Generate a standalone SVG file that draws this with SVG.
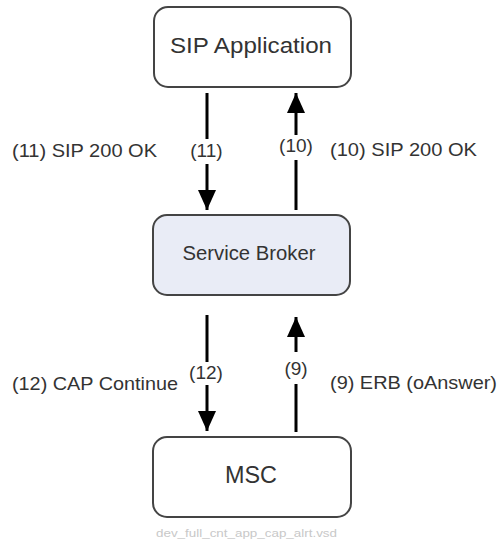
<svg xmlns="http://www.w3.org/2000/svg" width="500" height="542" viewBox="0 0 500 542">
  <defs>
    <marker id="arrow" markerUnits="userSpaceOnUse" markerWidth="20" markerHeight="18" refX="20" refY="9" orient="auto">
      <path d="M0,0 L20,9 L0,18 Z" fill="#000"/>
    </marker>
  </defs>
  <style>
    .node { fill: #fff; stroke: #444; stroke-width: 2; }
    .broker { fill: #e9ecf6; }
    .ntext { font-family: "Liberation Sans", Arial, sans-serif; fill: #333; text-anchor: middle; }
    .lbl { font-family: "Liberation Sans", Arial, sans-serif; font-size: 19px; fill: #333; }
    .conn { fill: none; stroke: #000; stroke-width: 3; }
    .cap { font-family: "Liberation Sans", Arial, sans-serif; font-size: 10px; fill: #c8c8c8; }
  </style>
  <rect width="500" height="542" fill="#fff"/>

  <g id="sip-application">
    <rect class="node" x="154" y="7" width="197" height="80" rx="14"/>
    <text class="ntext" x="251" y="53" font-size="22" textLength="162" lengthAdjust="spacingAndGlyphs">SIP Application</text>
  </g>
  <g id="service-broker">
    <rect class="node broker" x="153" y="215" width="197" height="80" rx="14"/>
    <text class="ntext" x="249" y="260" font-size="20" textLength="133" lengthAdjust="spacingAndGlyphs">Service Broker</text>
  </g>
  <g id="msc">
    <rect class="node" x="153" y="437" width="198" height="80" rx="14"/>
    <text class="ntext" x="251" y="483" font-size="23" textLength="52" lengthAdjust="spacingAndGlyphs">MSC</text>
  </g>

  <g id="connectors">
    <path class="conn" d="M207,93 L207,139 M207,164 L207,210" marker-end="url(#arrow)"/>
    <path class="conn" d="M296,210 L296,160 M296,135 L296,93" marker-end="url(#arrow)"/>
    <path class="conn" d="M207,315 L207,362 M207,385 L207,431" marker-end="url(#arrow)"/>
    <path class="conn" d="M296,432 L296,384 M296,352 L296,317" marker-end="url(#arrow)"/>
  </g>

  <g id="labels">
    <text class="lbl" x="12" y="157" textLength="145" lengthAdjust="spacingAndGlyphs">(11) SIP 200 OK</text>
    <text class="lbl" x="206.5" y="157" text-anchor="middle">(11)</text>
    <text class="lbl" x="296" y="152" text-anchor="middle">(10)</text>
    <text class="lbl" x="330" y="156" textLength="147" lengthAdjust="spacingAndGlyphs">(10) SIP 200 OK</text>
    <text class="lbl" x="12" y="390" textLength="166" lengthAdjust="spacingAndGlyphs">(12) CAP Continue</text>
    <text class="lbl" x="206" y="379" text-anchor="middle">(12)</text>
    <text class="lbl" x="296" y="375" text-anchor="middle">(9)</text>
    <text class="lbl" x="330" y="389" textLength="167" lengthAdjust="spacingAndGlyphs">(9) ERB (oAnswer)</text>
  </g>

  <text class="cap" x="156" y="537" textLength="181" lengthAdjust="spacingAndGlyphs">dev_full_cnt_app_cap_alrt.vsd</text>
</svg>
